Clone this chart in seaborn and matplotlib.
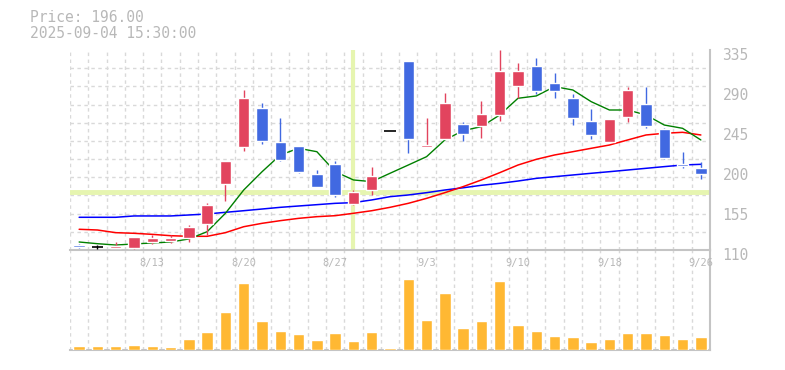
import numpy as np
import pandas as pd
import seaborn as sns
import matplotlib
matplotlib.use("Agg")
import matplotlib.pyplot as plt
from matplotlib.transforms import ScaledTranslation

dates = ["8/6", "8/7", "8/8", "8/12", "8/13", "8/14", "8/15", "8/18", "8/19", "8/20",
         "8/21", "8/22", "8/25", "8/26", "8/27", "8/28", "8/29", "9/1", "9/2", "9/3",
         "9/4", "9/5", "9/8", "9/9", "9/10", "9/11", "9/12", "9/16", "9/17", "9/18",
         "9/19", "9/22", "9/24", "9/25", "9/26"]

opens = [115.3, 113.4, 112.6, 112.0, 119.4, 120.1, 123.9, 139.6, 184.6, 226.2,
         269.8, 231.5, 227.0, 195.2, 206.8, 162.0, 177.9, 244.3, 322.6, 226.2,
         235.3, 251.8, 249.9, 262.2, 294.9, 317.0, 297.9, 281.0, 255.0, 231.8,
         260.0, 274.3, 246.0, 206.8, 202.3]
highs = [117.0, 115.6, 119.0, 125.0, 126.9, 126.5, 138.0, 162.9, 210.0, 290.0,
         275.0, 258.5, 227.0, 200.0, 210.0, 177.5, 203.4, 244.3, 322.6, 258.5,
         286.6, 254.0, 277.6, 335.0, 320.4, 326.0, 309.0, 285.5, 268.6, 257.4,
         293.4, 293.4, 247.3, 220.6, 209.0]
lows = [112.6, 111.1, 112.2, 111.2, 116.8, 118.0, 119.0, 127.2, 165.5, 221.7,
        229.6, 210.5, 196.6, 181.2, 170.0, 160.6, 171.9, 244.3, 219.5, 226.2,
        235.3, 233.0, 236.3, 255.5, 280.7, 285.9, 281.3, 251.0, 235.0, 231.8,
        254.3, 247.6, 212.7, 202.6, 190.0]
closes = [113.4, 113.4, 114.8, 124.3, 123.1, 123.1, 136.2, 160.6, 210.0, 281.0,
          233.0, 211.6, 197.8, 181.2, 171.9, 175.3, 193.3, 244.3, 235.3, 228.0,
          275.4, 240.8, 263.0, 311.4, 311.4, 289.2, 289.2, 258.9, 239.7, 257.4,
          290.0, 249.9, 213.8, 204.8, 196.0]

ma_short = [119.0, 117.1, 115.6, 116.8, 117.9, 119.0, 122.4, 130.6, 151.3, 177.5,
            198.0, 216.9, 224.4, 220.6, 198.1, 188.8, 186.9, 196.3, 205.6, 215.0,
            233.8, 244.3, 248.8, 261.9, 280.7, 283.3, 293.8, 290.0, 276.9, 267.5,
            267.5, 261.9, 250.6, 246.9, 233.8]
ma_mid = [133.3, 132.5, 129.5, 128.8, 127.6, 126.1, 125.4, 125.4, 129.5, 136.2,
          140.0, 143.0, 145.6, 147.5, 148.6, 151.3, 154.2, 158.0, 162.5, 168.1,
          174.5, 181.3, 188.8, 197.0, 205.6, 212.0, 216.9, 220.6, 224.4, 228.1,
          233.8, 239.4, 241.3, 242.4, 239.4]
ma_long = [146.8, 146.8, 146.8, 148.3, 148.3, 148.3, 149.4, 150.5, 152.4, 154.2,
           156.1, 158.0, 159.5, 161.0, 162.5, 163.3, 166.3, 170.0, 171.9, 174.5,
           177.5, 180.0, 182.8, 185.0, 187.6, 190.6, 192.5, 194.4, 196.3, 198.1,
           200.0, 201.9, 203.8, 205.6, 206.4]

volumes = [12, 12, 12, 15, 12, 9, 33, 54, 114, 201,
           87, 57, 48, 30, 51, 27, 54, 6, 213, 90,
           171, 66, 87, 207, 75, 57, 42, 39, 24, 33,
           51, 51, 45, 33, 39]

y_ticks = [110, 155, 200, 245, 290, 335]
label_every = 5
cursor_index = 15
cursor_price = 175.3

up_color = "#e2445e"
down_color = "#4169e1"
vol_color = "#ffb833"
grid_color = "#d9d9d9"
axis_color = "#c4c4c4"
text_color = "#b8b8b8"
cross_color = "#e6f5b0"

sns.set_style("white")
plt.rcParams["font.family"] = ["DejaVu Sans Mono", "DejaVu Sans"]

idx = np.arange(len(dates))
df = pd.DataFrame({"i": idx, "open": opens, "high": highs, "low": lows,
                   "close": closes, "vol": volumes})

fig = plt.figure(figsize=(7.85, 3.70), dpi=100)
axv = fig.add_axes([70 / 785, 20 / 370, 640 / 785, 100 / 370])
ax = fig.add_axes([70 / 785, 120 / 370, 640 / 785, 200 / 370])
ax.patch.set_alpha(0)
axv.patch.set_alpha(0)

# grid
for a in (ax, axv):
    a.set_xticks(np.arange(-0.5, len(dates), 1), minor=True)
    a.set_xlim(-0.5, len(dates) - 0.5)
    a.grid(False)
    a.grid(which="minor", axis="x", color=grid_color, linestyle=(0, (2.5, 2.5)), lw=1)
    for s in ("left", "top"):
        a.spines[s].set_visible(False)
    for s in ("right", "bottom"):
        a.spines[s].set_color(axis_color)
        a.spines[s].set_linewidth(1.5)
    a.set_axisbelow(True)
    a.tick_params(which="both", length=0)

ax.set_ylim(110, 335)
ax.set_yticks(np.linspace(110, 335, 12), minor=True)
ax.grid(which="minor", axis="y", color=grid_color, linestyle=(0, (2.5, 2.5)), lw=1)

# crosshair
ax.axhline(cursor_price, color=cross_color, lw=3.5, zorder=1)
ax.axvline(cursor_index, color=cross_color, lw=3, zorder=1)

# moving averages
sns.lineplot(x=idx, y=ma_long, ax=ax, color="blue", lw=1.1, zorder=2)
sns.lineplot(x=idx, y=ma_mid, ax=ax, color="red", lw=1.1, zorder=2)
sns.lineplot(x=idx, y=ma_short, ax=ax, color="green", lw=1.0, zorder=2)

# candles
for r in df.itertuples():
    if r.close > r.open:
        c = up_color
    elif r.close < r.open:
        c = down_color
    else:
        c = "black"
    ax.vlines(r.i, r.low, r.high, color=c, lw=1, zorder=3)
    if c == "black":
        ax.hlines(r.open, r.i - 0.32, r.i + 0.32, color=c, lw=1.2, zorder=3)
    else:
        ax.bar(r.i, abs(r.close - r.open), bottom=min(r.open, r.close), width=0.62,
               color=c, zorder=3)

ax.set_yticks(y_ticks)
ax.yaxis.tick_right()
ax.set_yticklabels([str(v) for v in y_ticks], fontsize=10.5, color=text_color)
ax.tick_params(axis="y", pad=9)
for lbl in ax.get_yticklabels():
    lbl.set_transform(lbl.get_transform() + ScaledTranslation(0, -3 / 72, fig.dpi_scale_trans))

major = idx[4::label_every]
ax.set_xticks(major)
ax.set_xticklabels([dates[i] for i in major], fontsize=7.5, color=text_color)
ax.tick_params(axis="x", pad=6)
ax.set_xlabel("")
ax.set_ylabel("")

# volume
sns.barplot(data=df, x="i", y="vol", ax=axv, color=vol_color, width=0.62,
            saturation=1, zorder=3)
axv.set_xlim(-0.5, len(dates) - 0.5)
axv.set_ylim(0, 300)
axv.set_xticks([])
axv.set_yticks([])
axv.set_xlabel("")
axv.set_ylabel("")

fig.text(30 / 785, 1 - 17 / 370, "Price: 196.00", fontsize=10.5, color=text_color, va="center")
fig.text(30 / 785, 1 - 33 / 370, "2025-09-04 15:30:00", fontsize=10.5, color=text_color, va="center")

fig.savefig("out.png", dpi=100)
